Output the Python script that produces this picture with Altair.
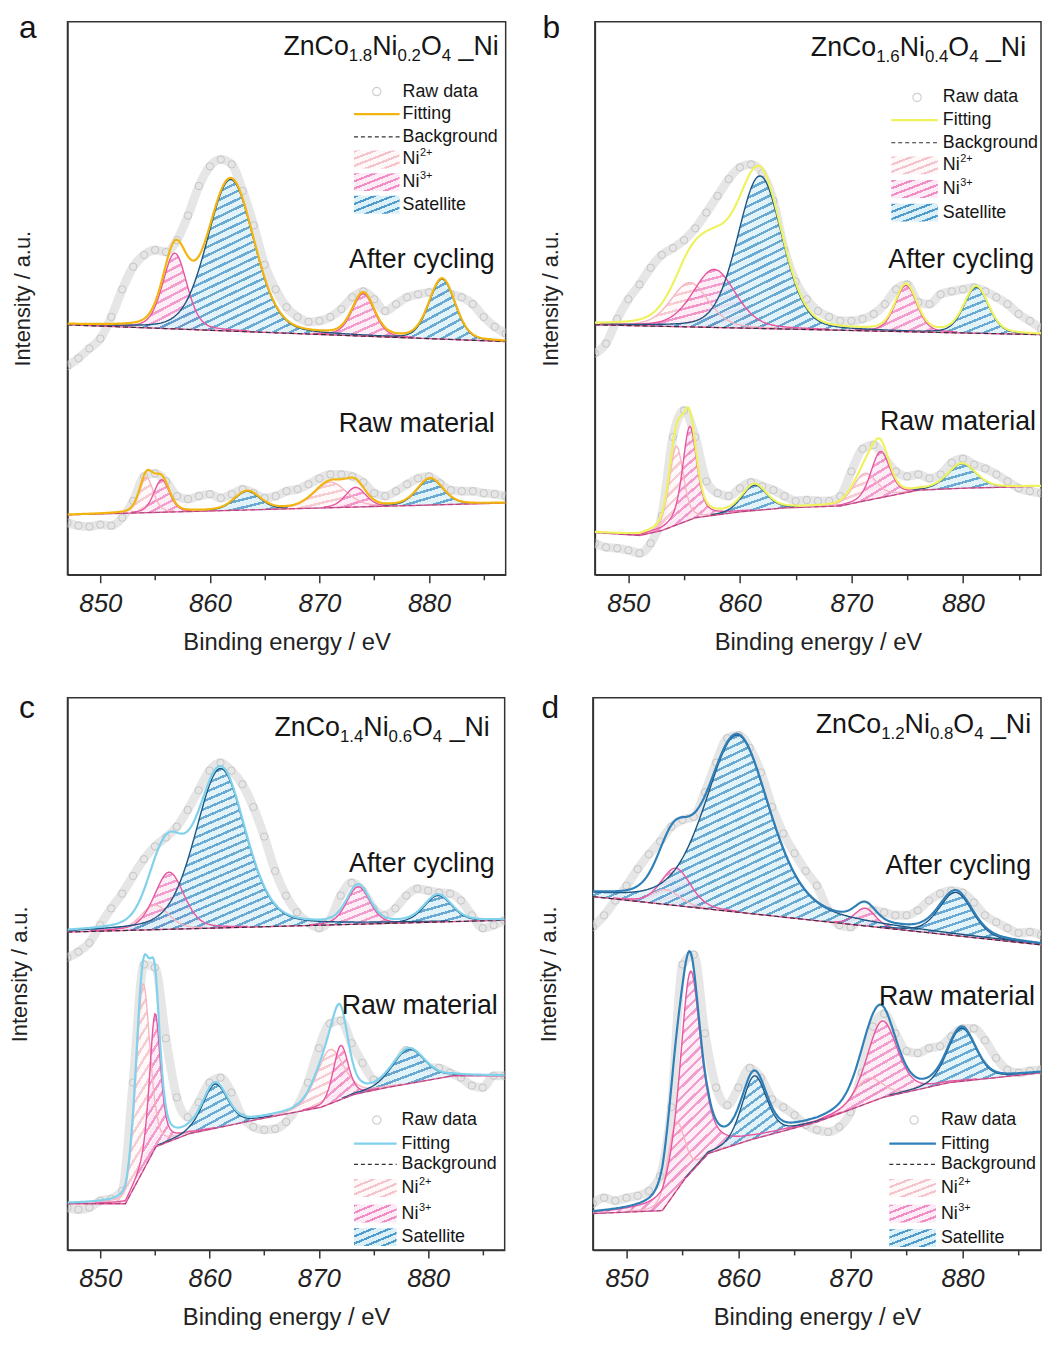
import altair as alt
import numpy as np
import pandas as pd

FONT = "Liberation Sans"
E_RAW = list(range(847, 888))
X_DOMAIN = [847, 887]
X_TICKS = [850, 855, 860, 865, 870, 875, 880, 885]

# ---------------- panel a : ZnCo1.8Ni0.2O4 ----------------
A_AFTER_RAW = [212, 220, 230, 240, 262, 290, 313, 325, 330, 328, 340, 365, 395, 415, 422, 417, 390, 355, 315, 290,
               272, 262, 257, 258, 262, 270, 282, 288, 280, 268, 275, 282, 285, 287, 288, 285, 282, 275, 262, 252, 245]
A_AFTER_BG_E = [847, 887]
A_AFTER_BG = [254, 237]
A_AFTER_PEAKS = [("Ni3+", 856.8, 77, 2.6, 0.3), ("Sat", 861.9, 154, 5.0, 0.2),
                 ("Ni3+", 874.0, 43, 2.4, 0.3), ("Sat", 881.2, 61, 2.8, 0.2)]
A_RAW_RAW = [53, 50, 49, 51, 50, 58, 75, 100, 103, 95, 80, 77, 80, 82, 78, 82, 87, 83, 78, 80,
             85, 87, 92, 98, 102, 102, 100, 94, 83, 80, 85, 92, 98, 100, 93, 86, 85, 85, 83, 82, 80]
A_RAW_BG_E = [847, 887]
A_RAW_BG = [61, 73]
A_RAW_PEAKS = [("Ni2+", 854.2, 36, 1.5, 0.3), ("Ni3+", 855.6, 33, 1.7, 0.3), ("Sat", 863.4, 19, 2.8, 0.3),
               ("Ni2+", 871.0, 26, 3.5, 0.3), ("Ni3+", 873.3, 20, 2.2, 0.3), ("Sat", 880.1, 27, 2.8, 0.3)]

# ---------------- panel b : ZnCo1.6Ni0.4O4 ----------------
B_AFTER_RAW = [225, 235, 260, 280, 295, 312, 325, 332, 340, 352, 368, 385, 402, 414, 417, 408, 380, 330, 298, 280,
               268, 262, 258, 258, 260, 265, 275, 290, 295, 277, 275, 285, 288, 290, 292, 288, 282, 275, 265, 258, 250]
B_AFTER_BG_E = [847, 887]
B_AFTER_BG = [254, 244]
B_AFTER_PEAKS = [("Ni2+", 855.5, 45, 4.0, 0.3), ("Ni3+", 857.7, 59, 4.5, 0.3), ("Sat", 861.8, 155, 4.7, 0.2),
                 ("Ni3+", 874.9, 47, 2.3, 0.3), ("Sat", 881.2, 47, 2.6, 0.3)]
B_RAW_RAW = [32, 28, 27, 25, 22, 32, 60, 140, 167, 140, 95, 83, 80, 88, 94, 90, 86, 80, 75, 76,
             75, 75, 80, 105, 128, 132, 118, 105, 100, 102, 98, 102, 114, 118, 112, 108, 102, 95, 88, 85, 83]
B_RAW_BG_E = [847, 851, 853, 856, 860, 864, 869, 872, 876, 880, 887]
B_RAW_BG = [43, 40, 45, 58, 64, 68, 70, 77, 86, 88, 90]
B_RAW_PEAKS = [("Ni2+", 854.3, 80, 1.5, 0.3), ("Ni3+", 855.5, 95, 1.5, 0.5), ("Sat", 861.3, 26, 2.6, 0.3),
               ("Ni2+", 871.2, 28, 2.5, 0.3), ("Ni3+", 872.6, 47, 2.0, 0.3), ("Sat", 879.9, 25, 3.0, 0.3)]

# ---------------- panel c : ZnCo1.4Ni0.6O4 ----------------
C_AFTER_RAW = [297, 303, 312, 330, 347, 362, 380, 397, 410, 419, 430, 447, 467, 487, 495, 487, 473, 450, 420, 385,
               360, 343, 333, 327, 335, 360, 373, 365, 347, 340, 347, 360, 367, 365, 363, 362, 355, 340, 327, 330, 335]
C_AFTER_BG_E = [847, 887]
C_AFTER_BG = [323, 335]
C_AFTER_PEAKS = [("Ni2+", 855.0, 25, 3.0, 0.3), ("Ni3+", 856.3, 58, 3.2, 0.3), ("Sat", 861.0, 162, 5.4, 0.3),
                 ("Ni3+", 873.6, 38, 2.5, 0.3), ("Sat", 880.9, 27, 3.0, 0.3)]
C_RAW_RAW = [43, 41, 43, 50, 52, 60, 170, 290, 287, 215, 155, 135, 150, 170, 175, 160, 135, 125, 122, 123,
             130, 145, 170, 205, 230, 233, 210, 190, 173, 170, 185, 203, 195, 185, 185, 180, 175, 167, 165, 177, 177]
C_RAW_BG_E = [847, 852.3, 855.1, 858.1, 864.1, 870.2, 873.2, 876.2, 882.3, 887]
C_RAW_BG = [47, 47, 105, 118, 132, 145, 158, 165, 177, 177]
C_RAW_PEAKS = [("Ni2+", 853.9, 190, 1.5, 0.3), ("Ni3+", 855.0, 137, 1.2, 0.5), ("Sat", 860.5, 45, 2.7, 0.3),
               ("Ni2+", 871.0, 55, 3.0, 0.3), ("Ni3+", 872.0, 55, 1.6, 0.3), ("Sat", 878.2, 35, 3.5, 0.3)]

# ---------------- panel d : ZnCo1.2Ni0.8O4 ----------------
D_AFTER_RAW = [328, 340, 355, 370, 387, 402, 415, 430, 437, 440, 465, 495, 520, 523, 510, 485, 450, 423, 403, 385,
               370, 345, 330, 328, 340, 345, 343, 340, 340, 345, 355, 362, 365, 363, 353, 340, 333, 327, 322, 323, 320]
D_AFTER_BG_E = [847, 887]
D_AFTER_BG = [359, 310]
D_AFTER_PEAKS = [("Ni2+", 853.5, 15, 3.0, 0.3), ("Ni3+", 854.4, 38, 3.1, 0.3), ("Sat", 859.9, 180, 6.8, 0.4),
                 ("Ni3+", 871.3, 18, 2.2, 0.3), ("Sat", 879.4, 44, 3.5, 0.3)]
D_RAW_RAW = [47, 53, 50, 53, 55, 60, 75, 145, 290, 300, 220, 165, 147, 165, 185, 175, 153, 145, 137, 127,
             122, 120, 125, 140, 180, 227, 240, 220, 202, 200, 205, 207, 217, 225, 225, 213, 195, 183, 180, 182, 183]
D_RAW_BG_E = [847, 853.2, 855.2, 857.3, 861.1, 867.0, 872.9, 878.8, 887]
D_RAW_BG = [37, 40, 72, 98, 112, 130, 155, 170, 180]
D_RAW_PEAKS = [("Ni2+", 854.4, 70, 1.8, 0.3), ("Ni3+", 855.7, 205, 2.2, 0.6), ("Sat", 861.4, 64, 2.6, 0.3),
               ("Ni2+", 871.5, 25, 3.0, 0.3), ("Ni3+", 872.8, 78, 3.2, 0.3), ("Sat", 879.9, 54, 3.0, 0.3)]

# ---------------- styles ----------------
HATCH = {"Ni2+": ("#f5c3cb", "#fff8f9"), "Ni3+": ("#f08cc6", "#fdebf5"), "Sat": ("#4f9bcc", "#dcf0f8")}
OUTLINE = {"Ni2+": "#f5b5c1", "Ni3+": "#e8559f", "Sat": "#1d5580"}
FIT = {"a": "#f2b50f", "b": "#eef25e", "c": "#7fd1ec", "d": "#2f7fb8"}
ONE = pd.DataFrame({"k": [0]})
EG = np.round(np.linspace(847, 887, 401), 2)
LN2 = np.log(2.0)

AW = {'Z': 611, 'n': 556, 'C': 722, 'o': 556, 'N': 722, 'i': 222, 'O': 778, '_': 556, ' ': 278, '.': 278}


def tw(s, size):
    return sum(AW.get(ch, 556) for ch in s) / 1000.0 * size


def pv(x, c, h, w, eta):
    d2 = 4.0 * (x - c) ** 2 / w ** 2
    return h * (eta / (1.0 + d2) + (1.0 - eta) * np.exp(-LN2 * d2))


def hatch(typ, W, H, s=3.8, f=0.32):
    line, gap = HATCH[typ]
    n = max(3, int(round(1.0 / (s * np.sqrt(1.0 / W ** 2 + 1.0 / H ** 2)))))
    stops = []
    for k in range(n):
        a = round(k / n, 5)
        b = round((k + f) / n, 5)
        c = round((k + 1) / n, 5)
        stops += [{"offset": a, "color": line}, {"offset": b, "color": line},
                  {"offset": b, "color": gap}, {"offset": c, "color": gap}]
    return {"gradient": "linear", "x1": 0, "y1": 0, "x2": 1, "y2": 1, "stops": stops}


def text(s, x, y, size, align="left", baseline="alphabetic", color="#151515"):
    return alt.Chart(ONE).mark_text(text=s, fontSize=size, align=align, baseline=baseline,
                                    color=color, font=FONT).encode(x=alt.value(float(x)), y=alt.value(float(y)))


def spectrum(raw, bgE, bgV, peaks, fitc, X, Y, pxpe, pxpv, after):
    L = []
    rawdf = pd.DataFrame({"E": E_RAW, "v": raw})
    L.append(alt.Chart(rawdf).mark_line(color="#d6d6d6", strokeWidth=9, opacity=0.6,
                                        interpolate="monotone", clip=True).encode(x=X, y=Y))
    L.append(alt.Chart(rawdf).mark_point(shape="circle", filled=False, color="#bdbdbd", size=55,
                                         strokeWidth=1, opacity=0.8, clip=True).encode(x=X, y=Y))
    bg = np.interp(EG, bgE, bgV)
    total = bg.copy()
    order = {"Ni2+": 0, "Ni3+": 1, "Sat": 2}
    outlines = []
    for typ, c, h, w, eta in sorted(peaks, key=lambda p: order[p[0]]):
        p = pv(EG, c, h, w, eta)
        total = total + p
        m = p > 0.8
        e = EG[m]
        lo = bg[m]
        hi = bg[m] + p[m]
        Wpx = (e.max() - e.min()) * pxpe
        Hpx = (hi.max() - lo.min()) * pxpv
        df = pd.DataFrame({"E": e, "v": np.round(lo, 2), "v2": np.round(hi, 2)})
        L.append(alt.Chart(df).mark_area(fill=hatch(typ, Wpx, Hpx), fillOpacity=0.85, clip=True)
                 .encode(x=X, y=Y, y2=alt.Y2("v2")))
        odf = pd.DataFrame({"E": e, "v": np.round(hi, 2)})
        outlines.append(alt.Chart(odf).mark_line(color=OUTLINE[typ], strokeWidth=1.4, clip=True)
                        .encode(x=X, y=Y))
    L += outlines
    bgdf = pd.DataFrame({"E": EG, "v": np.round(bg, 2)})
    L.append(alt.Chart(bgdf).mark_line(color="#e8559e", strokeWidth=1.4, clip=True).encode(x=X, y=Y))
    L.append(alt.Chart(bgdf).mark_line(color="#333333", strokeWidth=1.2, strokeDash=[5, 3],
                                       opacity=1.0 if after else 0.35, clip=True).encode(x=X, y=Y))
    fdf = pd.DataFrame({"E": EG, "v": np.round(total, 2)})
    L.append(alt.Chart(fdf).mark_line(color=fitc, strokeWidth=2.2, clip=True).encode(x=X, y=Y))
    return L


def legend(lay, fitc, ky):
    bx0, bx1, cx, tx, rows = lay
    rows = [r * ky for r in rows]
    L = []
    L.append(alt.Chart(ONE).mark_point(shape="circle", filled=False, color="#bdbdbd", size=70, strokeWidth=1.2)
             .encode(x=alt.value(cx), y=alt.value(rows[0])))
    L.append(text("Raw data", tx, rows[0], 18, baseline="middle"))
    L.append(alt.Chart(ONE).mark_rule(color=fitc, strokeWidth=2.2)
             .encode(x=alt.value(bx0), x2=alt.value(bx1), y=alt.value(rows[1])))
    L.append(text("Fitting", tx, rows[1], 18, baseline="middle"))
    L.append(alt.Chart(ONE).mark_rule(color="#333333", strokeWidth=1.2, strokeDash=[4, 3])
             .encode(x=alt.value(bx0), x2=alt.value(bx1), y=alt.value(rows[2])))
    L.append(text("Background", tx, rows[2], 18, baseline="middle"))
    for i, typ in enumerate(["Ni2+", "Ni3+", "Sat"]):
        r = rows[3 + i]
        L.append(alt.Chart(ONE).mark_rect(fill=hatch(typ, bx1 - bx0, 18, s=3.2))
                 .encode(x=alt.value(bx0), x2=alt.value(bx1), y=alt.value(r - 9), y2=alt.value(r + 9)))
    for i, sup in enumerate(["2+", "3+"]):
        r = rows[3 + i]
        L.append(text("Ni", tx, r, 18, baseline="middle"))
        L.append(text(sup, tx + tw("Ni", 18) + 0.5, r - 6, 11, baseline="middle"))
    L.append(text("Satellite", tx, rows[5], 18, baseline="middle"))
    return L


def formula(co, ni, right, base):
    parts = [("ZnCo", 27, 0), (co, 17, 6), ("Ni", 27, 0), (ni, 17, 6), ("O", 27, 0), ("4", 17, 6), (" _Ni", 27, 0)]
    total = sum(tw(s, sz) for s, sz, _ in parts)
    x = right - total
    L = []
    for s, sz, dy in parts:
        if s.startswith(" "):
            x += tw(" ", sz)
            s = s[1:]
        L.append(text(s, x, base + dy, sz))
        x += tw(s, sz)
    return L


PANELS = [
    dict(letter="a", width=442, height=558, vmax=562, sub=("1.8", "0.2"), tpad=33,
         after=(A_AFTER_RAW, A_AFTER_BG_E, A_AFTER_BG, A_AFTER_PEAKS),
         raw=(A_RAW_RAW, A_RAW_BG_E, A_RAW_BG, A_RAW_PEAKS),
         title=(435, 34), t_after=(431, 242), t_raw=(431, 409), let=(-40, 16),
         leg=(289, 335, 312, 338, [71, 94, 117, 140, 163, 186])),
    dict(letter="b", width=450, height=558, vmax=562, sub=("1.6", "0.4"), tpad=33,
         after=(B_AFTER_RAW, B_AFTER_BG_E, B_AFTER_BG, B_AFTER_PEAKS),
         raw=(B_RAW_RAW, B_RAW_BG_E, B_RAW_BG, B_RAW_PEAKS),
         title=(435, 35), t_after=(443, 242), t_raw=(445, 407), let=(-44, 16),
         leg=(299, 346, 325, 351, [77, 100, 123, 146, 170, 194])),
    dict(letter="c", width=441, height=557, vmax=561, sub=("1.4", "0.6"), tpad=36,
         after=(C_AFTER_RAW, C_AFTER_BG_E, C_AFTER_BG, C_AFTER_PEAKS),
         raw=(C_RAW_RAW, C_RAW_BG_E, C_RAW_BG, C_RAW_PEAKS),
         title=(426, 39), t_after=(431, 169), t_raw=(434, 313), let=(-41, 20),
         leg=(289, 332, 312, 337, [429, 453, 474, 498, 524, 548])),
    dict(letter="d", width=452, height=557, vmax=561, sub=("1.2", "0.8"), tpad=33,
         after=(D_AFTER_RAW, D_AFTER_BG_E, D_AFTER_BG, D_AFTER_PEAKS),
         raw=(D_RAW_RAW, D_RAW_BG_E, D_RAW_BG, D_RAW_PEAKS),
         title=(442, 36), t_after=(442, 171), t_raw=(446, 304), let=(-43, 20),
         leg=(299, 346, 324, 351, [429, 453, 474, 498, 524, 549])),
]


def make_panel(P):
    fitc = FIT[P["letter"]]
    ky = P["height"] / P["vmax"]
    xs = alt.Scale(domain=X_DOMAIN, nice=False, zero=False)
    ys = alt.Scale(domain=[0, P["vmax"]], nice=False, zero=False)
    xax = alt.Axis(values=X_TICKS, labelExpr="datum.value % 10 == 0 ? datum.label : ''",
                   tickSize={"condition": {"test": "datum.value % 10 == 0", "value": 8}, "value": 5},
                   labelFontSize=26, labelFontStyle="italic", labelFont=FONT, labelColor="#222222",
                   labelPadding=8, labelFlush=False, labelOverlap=False, format="d",
                   title="Binding energy / eV", titleFontSize=24, titleFontWeight="normal",
                   titleFont=FONT, titleColor="#222222", titlePadding=14,
                   grid=False, domainColor="#333333", domainWidth=1.5, tickColor="#333333", tickWidth=1.5)
    yax = alt.Axis(title="Intensity / a.u.", labels=False, ticks=False, grid=False,
                   titleFontSize=22, titleFontWeight="normal", titleFont=FONT, titleColor="#222222",
                   titlePadding=P["tpad"], domainColor="#333333", domainWidth=1.5)
    X = alt.X("E:Q", scale=xs, axis=xax)
    Y = alt.Y("v:Q", scale=ys, axis=yax)
    pxpe = P["width"] / 40.0
    L = []
    L += spectrum(*P["after"], fitc, X, Y, pxpe, ky, True)
    L += spectrum(*P["raw"], fitc, X, Y, pxpe, ky, False)
    L += formula(P["sub"][0], P["sub"][1], P["title"][0], P["title"][1] * ky)
    L.append(text("After cycling", P["t_after"][0], P["t_after"][1] * ky, 27, align="right", baseline="middle"))
    L.append(text("Raw material", P["t_raw"][0], P["t_raw"][1] * ky, 27, align="right", baseline="middle"))
    L.append(text(P["letter"], P["let"][0], P["let"][1], 32, align="center"))
    L += legend(P["leg"], fitc, ky)
    return alt.layer(*L).properties(width=P["width"], height=P["height"])


pa, pb, pc, pd_ = [make_panel(P) for P in PANELS]
row1 = alt.hconcat(pa, pb, spacing=32)
row2 = alt.hconcat(pc, pd_, spacing=31)
chart = (alt.vconcat(row1, row2, spacing=36)
         .properties(padding={"left": 0, "top": -3, "right": 0, "bottom": 0})
         .configure(font=FONT)
         .configure_view(stroke="#333333", strokeWidth=1.5))

chart.save("out.html", embed_options={"renderer": "svg", "actions": False})
